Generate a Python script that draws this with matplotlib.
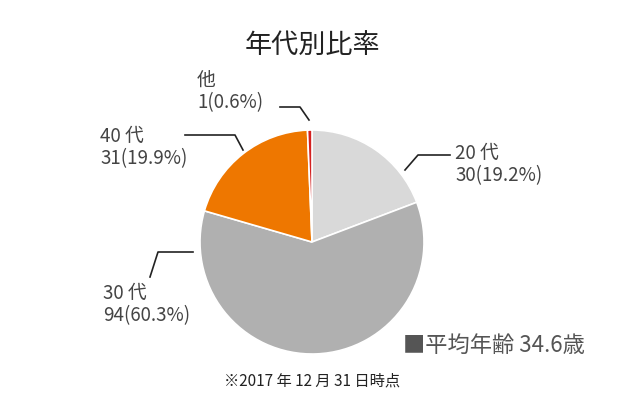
import matplotlib.pyplot as plt
from matplotlib.lines import Line2D

plt.rcParams['font.family'] = 'Noto Sans CJK JP'

labels = ['20 代', '30 代', '40 代', '他']
counts = [30, 94, 31, 1]
percents = ['19.2%', '60.3%', '19.9%', '0.6%']
colors = ['#d9d9d9', '#b0b0b0', '#ee7700', '#d42020']

W, H = 640, 419
fig = plt.figure(figsize=(6.4, 4.19), dpi=100)

def fx(x): return x / W
def fy(y): return 1 - y / H

ax = fig.add_axes([fx(200), fy(354), 224 / W, 224 / H])
ax.pie(counts, colors=colors, startangle=90, counterclock=False,
       wedgeprops=dict(edgecolor='white', linewidth=1.2))
ax.set_xlim(-1, 1); ax.set_ylim(-1, 1); ax.set_aspect('equal')

fig.text(fx(312), fy(45), '年代別比率', ha='center', va='center', fontsize=19.5, color='#222222')

txt = dict(fontsize=13.5, color='#444444', linespacing=1.1)
pos = {'20 代': (455, 143, 'left'), '30 代': (103, 283, 'left'),
       '40 代': (100, 126, 'left'), '他': (197, 70, 'left')}
for lab, c, p in zip(labels, counts, percents):
    x, y, ha = pos[lab]
    fig.text(fx(x), fy(y), f'{lab}\n{c}({p})', ha=ha, va='top', **txt)

leaders = [[(405, 170), (418, 155), (450, 155)],
           [(150, 277), (158, 252), (193, 252)],
           [(185, 135), (235, 135), (243, 150)],
           [(280, 107), (300, 107), (309, 120)]]
for pts in leaders:
    xs = [fx(p[0]) for p in pts]; ys = [fy(p[1]) for p in pts]
    fig.add_artist(Line2D(xs, ys, color='#222222', lw=1.2, transform=fig.transFigure))

fig.text(fx(403), fy(345), '■平均年齢 34.6歳', ha='left', va='center', fontsize=16, color='#555555')
fig.text(fx(312), fy(381), '※2017 年 12 月 31 日時点', ha='center', va='center', fontsize=11, color='#222222')

fig.savefig('out.png', dpi=100)
